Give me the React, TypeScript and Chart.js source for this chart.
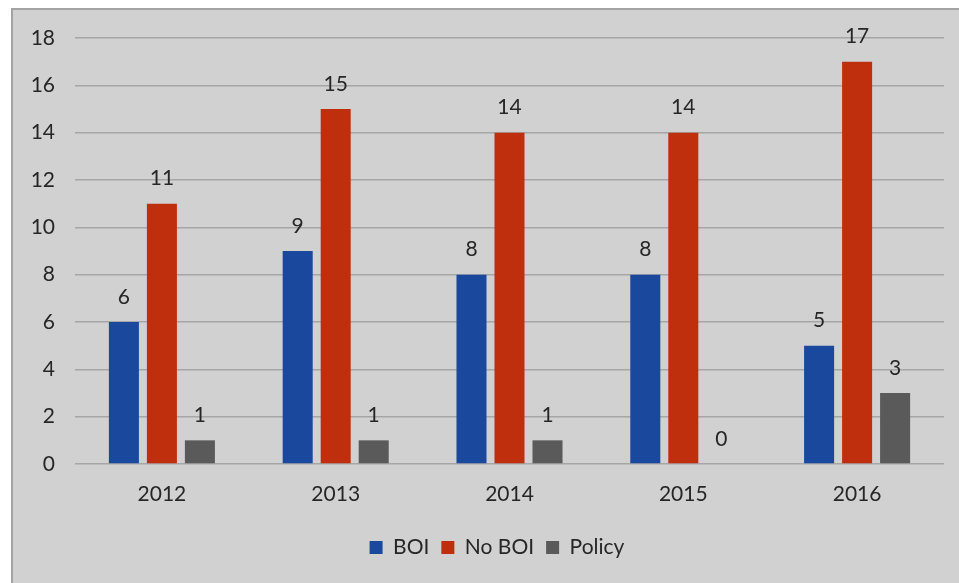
import React, { useEffect, useRef } from "react";
import { Chart, registerables } from "chart.js";

Chart.register(...registerables);

const categories = ["2012", "2013", "2014", "2015", "2016"];
const boiValues = [6, 9, 8, 8, 5];
const noBoiValues = [11, 15, 14, 14, 17];
const policyValues = [1, 1, 1, 0, 3];
const yTicks = [0, 2, 4, 6, 8, 10, 12, 14, 16, 18];

const FONT = "Lato, 'Open Sans', sans-serif";
const TEXT = "#262626";

const bgPlugin = {
  id: "bgPlugin",
  beforeDraw(chart: any) {
    const { ctx, width, height } = chart;
    ctx.save();
    ctx.fillStyle = "#ffffff";
    ctx.fillRect(0, 0, width, height);
    ctx.fillStyle = "#d1d1d1";
    ctx.fillRect(11, 8, width - 11, height - 8);
    ctx.fillStyle = "#a3a3a3";
    ctx.fillRect(11, 8, 2, height - 8);
    ctx.fillRect(11, 8, width - 11, 2);
    ctx.restore();
  },
};

const legendShift = {
  id: "legendShift",
  afterLayout(chart: any) {
    if (chart.legend) {
      chart.legend.left += 25;
      chart.legend.right += 25;
    }
  },
};

const labelPlugin = {
  id: "labelPlugin",
  afterDatasetsDraw(chart: any) {
    const { ctx } = chart;
    ctx.save();
    ctx.font = `21px ${FONT}`;
    ctx.fillStyle = TEXT;
    ctx.textAlign = "center";
    ctx.textBaseline = "middle";
    chart.data.datasets.forEach((ds: any, i: number) => {
      const meta = chart.getDatasetMeta(i);
      meta.data.forEach((bar: any, j: number) => {
        ctx.fillText(String(ds.data[j]), bar.x, bar.y - 25);
      });
    });
    ctx.restore();
  },
};

export default function App() {
  const ref = useRef<HTMLCanvasElement>(null);
  useEffect(() => {
    if (!ref.current) return;
    const chart = new Chart(ref.current, {
      type: "bar",
      data: {
        labels: categories,
        datasets: [
          { label: "BOI", data: boiValues, backgroundColor: "#1a489c" },
          { label: "No BOI", data: noBoiValues, backgroundColor: "#bf2f0e" },
          { label: "Policy", data: policyValues, backgroundColor: "#5a5a5a" },
        ],
      },
      options: {
        animation: false,
        responsive: false,
        devicePixelRatio: 1,
        datasets: {
          bar: { categoryPercentage: 0.656, barPercentage: 0.79 },
        },
        layout: { padding: { left: 0, right: 15, top: 38, bottom: 15 } },
        plugins: {
          legend: {
            position: "bottom",
            labels: {
              font: { family: FONT, size: 21 },
              color: TEXT,
              boxWidth: 13,
              boxHeight: 13,
              padding: 12,
            },
          },
          tooltip: { enabled: false },
        },
        scales: {
          x: {
            grid: { display: false },
            border: { display: false },
            ticks: { font: { family: FONT, size: 21 }, color: TEXT, padding: 10 },
            afterFit(scale: any) {
              scale.height = 61;
            },
          },
          y: {
            min: 0,
            max: 18,
            afterBuildTicks(scale: any) {
              scale.ticks = yTicks.map((v) => ({ value: v }));
            },
            grid: { color: "#a6a6a6", lineWidth: 1.5, drawTicks: false },
            border: { display: false },
            ticks: { font: { family: FONT, size: 21 }, color: TEXT, padding: 20 },
            afterFit(scale: any) {
              scale.width = 75;
            },
          },
        },
      },
      plugins: [bgPlugin, legendShift, labelPlugin],
    });
    return () => chart.destroy();
  }, []);
  return (
    <div style={{ position: "fixed", left: 0, top: 0, width: 959, height: 583 }}>
      <canvas ref={ref} width={959} height={583} style={{ display: "block" }} />
    </div>
  );
}
